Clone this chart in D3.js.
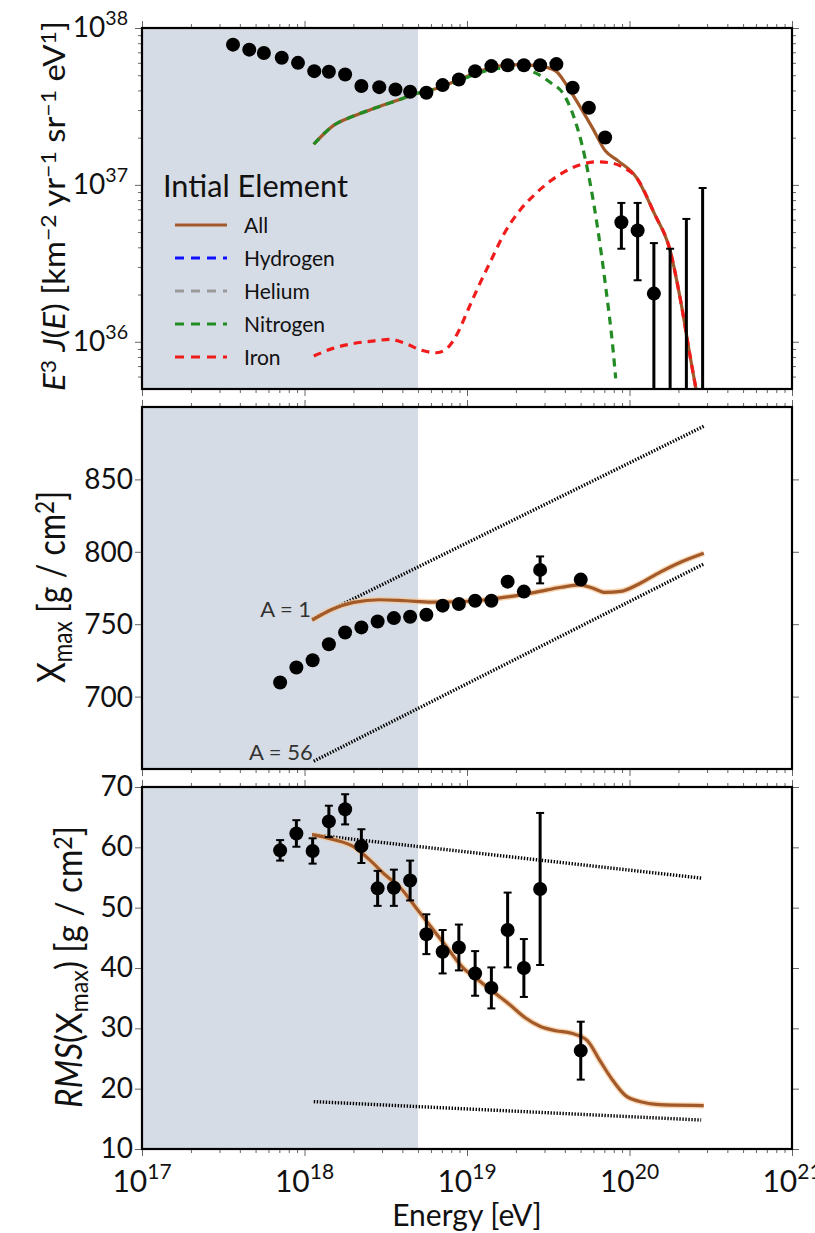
<!DOCTYPE html>
<html>
<head>
<meta charset="utf-8">
<script src="https://cdn.jsdelivr.net/npm/d3@7"></script>
<style>
  body { margin: 0; background: #fff; }
  text { font-family: Lato, "DejaVu Sans", sans-serif; fill: #111; }
</style>
</head>
<body>
<svg id="chart" width="815" height="1233"></svg>
<script>
// ---- data (log10 E in eV) ----
// spectrum points: log10 E, log10 E^3 J, error low / high (log10)
const specLgE = [17.56, 17.66, 17.75, 17.86, 17.96, 18.06, 18.15, 18.25, 18.35, 18.46, 18.56, 18.65, 18.75,
                 18.85, 18.95, 19.05, 19.15, 19.25, 19.35, 19.45, 19.55, 19.65, 19.75, 19.85, 19.95, 20.05,
                 20.15, 20.25, 20.35, 20.45];
const specLgJ = [37.894, 37.862, 37.841, 37.810, 37.778, 37.725, 37.721, 37.704, 37.630, 37.623, 37.608, 37.594,
                 37.587, 37.636, 37.672, 37.725, 37.757, 37.763, 37.763, 37.763, 37.770, 37.619, 37.492, 37.302,
                 36.762, 36.709, 36.307, 34.5, 34.5, 34.5];
const specLo =  [null, null, null, null, null, null, null, null, null, null, null, null, null, null, null, null,
                 null, null, null, null, null, null, null, 37.27, 36.593, 36.392, 34.0, 34.0, 34.0, 34.0];
const specHi =  [null, null, null, null, null, null, null, null, null, null, null, null, null, null, null, null,
                 null, null, null, null, null, null, null, 37.33, 36.885, 36.885, 36.629, 36.593, 36.783, 36.980];

// model curves, spectrum panel
const allLgE = [18.057, 18.175, 18.302, 18.430, 18.558, 18.686, 18.813, 18.941, 19.069, 19.196, 19.324, 19.452,
                19.547, 19.611, 19.675, 19.771, 19.851, 19.930, 20.042, 20.154, 20.250, 20.314, 20.377, 20.409];
const allLgJ = [37.259, 37.376, 37.439, 37.488, 37.534, 37.581, 37.615, 37.666, 37.721, 37.757, 37.767, 37.757,
                37.725, 37.640, 37.534, 37.365, 37.217, 37.153, 37.048, 36.815, 36.582, 36.265, 35.884, 35.70];
const nitLgE = [18.057, 18.175, 18.302, 18.430, 18.558, 18.686, 18.813, 18.941, 19.069, 19.196, 19.324, 19.420,
                19.515, 19.595, 19.659, 19.707, 19.755, 19.803, 19.851, 19.899, 19.915];
const nitLgJ = [37.259, 37.376, 37.439, 37.488, 37.534, 37.581, 37.612, 37.660, 37.712, 37.742, 37.745, 37.714,
                37.651, 37.577, 37.429, 37.259, 37.026, 36.730, 36.370, 35.947, 35.767];
const feLgE = [18.057, 18.175, 18.302, 18.430, 18.526, 18.622, 18.717, 18.813, 18.877, 18.941, 19.005, 19.069,
               19.148, 19.228, 19.324, 19.420, 19.515, 19.611, 19.707, 19.803, 19.899, 19.962, 20.042, 20.154,
               20.250, 20.314, 20.377, 20.409];
const feLgJ = [35.909, 35.958, 35.989, 36.006, 36.015, 35.989, 35.947, 35.930, 35.958, 36.053, 36.201, 36.349,
               36.519, 36.688, 36.836, 36.942, 37.026, 37.090, 37.132, 37.147, 37.137, 37.111, 37.048, 36.815,
               36.582, 36.265, 35.884, 35.70];

// Xmax panel
const xmaxLgE = [17.85, 17.95, 18.05, 18.15, 18.25, 18.35, 18.45, 18.55, 18.65, 18.75, 18.85, 18.95, 19.05,
                 19.15, 19.25, 19.35, 19.45, 19.70];
const xmaxVal = [709.7, 720.1, 725.1, 736.2, 744.3, 747.8, 751.9, 754.2, 755.1, 756.5, 762.8, 763.9, 766.2,
                 766.2, 779.4, 772.5, 787.5, 780.8];
const xmaxErr = [1, 1, 1, 1, 1, 1, 1, 1, 1, 1, 1.5, 1.5, 2, 2, 3, 3, 9.3, 2.5];
const xmaxFitLgE = [18.047, 18.175, 18.302, 18.462, 18.622, 18.781, 18.941, 19.101, 19.260, 19.420, 19.579,
                    19.691, 19.771, 19.851, 19.947, 20.058, 20.186, 20.314, 20.457];
const xmaxFit = [752.8, 760.5, 765.1, 766.9, 766.2, 765.3, 765.5, 766.7, 769.0, 772.0, 775.5, 777.1, 775.0,
                 772.0, 772.7, 777.8, 785.8, 792.8, 799.0];
const xmaxA1 = [[18.047, 753.5], [20.457, 886.7]];
const xmaxA56 = [[18.057, 655.4], [20.457, 791.6]];

// RMS(Xmax) panel
const rmsLgE = xmaxLgE;
const rmsVal = [59.5, 62.3, 59.4, 64.3, 66.3, 60.2, 53.2, 53.3, 54.5, 45.6, 42.7, 43.4, 39.1, 36.7, 46.3, 40.0,
                53.1, 26.3];
const rmsErr = [1.7, 2.2, 2.1, 2.6, 2.5, 2.8, 2.9, 3.0, 3.3, 3.3, 3.6, 3.8, 3.7, 3.4, 6.2, 4.8, 12.6, 4.8];
const rmsFitLgE = [18.047, 18.175, 18.302, 18.398, 18.494, 18.590, 18.686, 18.781, 18.877, 18.973, 19.069,
                   19.164, 19.260, 19.356, 19.452, 19.547, 19.643, 19.739, 19.819, 19.899, 19.978, 20.090,
                   20.218, 20.457];
const rmsFit = [62.1, 61.3, 60.1, 58.0, 55.5, 53.3, 50.0, 46.7, 43.4, 40.1, 38.0, 36.0, 34.0, 31.8, 30.3, 29.6,
                29.2, 28.0, 24.6, 21.3, 18.8, 17.7, 17.3, 17.2];
const rmsA1 = [[18.047, 62.1], [20.441, 54.9]];
const rmsA56 = [[18.057, 17.85], [20.441, 14.8]];

const legendNames = ["All", "Hydrogen", "Helium", "Nitrogen", "Iron"];
const legendColors = ["#a35a2b", "#1010ff", "#9a9a9a", "#238b23", "#f01c1c"];
const legendDashed = [false, true, true, true, true];

const xDecades = [17, 18, 19, 20, 21];
const shadeEnd = 5e18;

// ---- layout ----
const svg = d3.select("#chart");
const left = 142, right = 792;
const x = d3.scaleLog().domain([1e17, 1e21]).range([left, right]);
const brown = legendColors[0];

const yTop = d3.scaleLog().domain([5e35, 1e38]).range([389, 28]);
const yMid = d3.scaleLinear().domain([650, 900]).range([769, 407]);
const yBot = d3.scaleLinear().domain([10, 70]).range([1149, 787]);

const xMajor = xDecades.map(d => Math.pow(10, d));
const xMinor = [];
for (let e = 17; e < 21; e++) for (let m = 2; m < 10; m++) xMinor.push(m * Math.pow(10, e));

function panel(id, y) {
  const [y1, y0] = y.range();
  const g = svg.append("g");
  svg.append("clipPath").attr("id", "clip-" + id)
    .append("rect").attr("x", left).attr("y", y0).attr("width", right - left).attr("height", y1 - y0);
  g.append("rect")
    .attr("x", left).attr("y", y0)
    .attr("width", x(shadeEnd) - left).attr("height", y1 - y0)
    .attr("fill", "#d6dce5");
  const plot = g.append("g").attr("clip-path", `url(#clip-${id})`);
  return { g, plot, y0, y1 };
}

function ticks(p, y, yMajor, yMinor) {
  const sides = [
    [d3.axisBottom(x), `translate(0,${p.y1})`, xMajor, xMinor],
    [d3.axisTop(x), `translate(0,${p.y0})`, xMajor, xMinor],
    [d3.axisLeft(y), `translate(${left},0)`, yMajor, yMinor],
    [d3.axisRight(y), `translate(${right},0)`, yMajor, yMinor]
  ];
  sides.forEach(([ax, tr, maj, min]) => {
    [[maj, 7], [min, 4]].forEach(([vals, size]) => {
      const a = p.g.append("g").attr("transform", tr)
        .call(ax.tickValues(vals).tickSize(size).tickFormat(""));
      a.select(".domain").remove();
      a.selectAll("line").attr("stroke", "#666").attr("stroke-width", 1);
    });
  });
  p.g.append("rect")
    .attr("x", left).attr("y", p.y0)
    .attr("width", right - left).attr("height", p.y1 - p.y0)
    .attr("fill", "none").attr("stroke", "#000").attr("stroke-width", 2.2);
}

function curve(p, xs, ys, yf, color, dashed, glow) {
  const line = d3.line().x((d, i) => x(Math.pow(10, xs[i]))).y((d, i) => yf(ys[i])).curve(d3.curveMonotoneX);
  if (glow) {
    p.plot.append("path").attr("d", line(xs)).attr("fill", "none")
      .attr("stroke", "#f6c896").attr("stroke-width", 6).attr("stroke-opacity", 0.7);
  }
  p.plot.append("path").attr("d", line(xs)).attr("fill", "none")
    .attr("stroke", color).attr("stroke-width", 3.2)
    .attr("stroke-dasharray", dashed ? "8,6" : null);
}

function dotted(p, pts, yf) {
  p.plot.append("path")
    .attr("d", d3.line().x(d => x(Math.pow(10, d[0]))).y(d => yf(d[1]))(pts))
    .attr("fill", "none").attr("stroke", "#000").attr("stroke-width", 3.4)
    .attr("stroke-dasharray", "1.4,1.6");
}

function points(p, xs, cy, lo, hi) {
  xs.forEach((lg, i) => {
    const cx = x(Math.pow(10, lg));
    if (lo[i] != null) {
      p.plot.append("line").attr("x1", cx).attr("x2", cx).attr("y1", lo[i]).attr("y2", hi[i])
        .attr("stroke", "#000").attr("stroke-width", 3);
      [lo[i], hi[i]].forEach(v => p.plot.append("line")
        .attr("x1", cx - 4).attr("x2", cx + 4).attr("y1", v).attr("y2", v)
        .attr("stroke", "#000").attr("stroke-width", 2));
    }
    p.plot.append("circle").attr("cx", cx).attr("cy", cy[i]).attr("r", 7).attr("fill", "#000");
  });
}

function tenPow(sel, xPos, yPos, exp, size, anchor) {
  const t = sel.append("text").attr("x", xPos).attr("y", yPos).attr("text-anchor", anchor)
    .style("font-size", size + "px");
  t.append("tspan").text("10");
  t.append("tspan").attr("dy", -size * 0.42).style("font-size", (size * 0.7) + "px").text(exp);
}

// ---- top panel: spectrum ----
const pTop = panel("top", yTop);
curve(pTop, allLgE, allLgJ.map(v => Math.pow(10, v)), yTop, brown, false, false);
curve(pTop, nitLgE, nitLgJ.map(v => Math.pow(10, v)), yTop, legendColors[3], true);
curve(pTop, feLgE, feLgJ.map(v => Math.pow(10, v)), yTop, legendColors[4], true);
points(pTop, specLgE, specLgJ.map(v => yTop(Math.pow(10, v))),
  specLo.map(v => v == null ? null : yTop(Math.pow(10, v))),
  specHi.map(v => v == null ? null : yTop(Math.pow(10, v))));
const topMinor = [];
for (let e = 35; e < 38; e++) for (let m = 2; m < 10; m++) {
  const v = m * Math.pow(10, e);
  if (v >= 5e35 && v <= 1e38) topMinor.push(v);
}
ticks(pTop, yTop, [1e36, 1e37, 1e38], topMinor);
[36, 37, 38].forEach(e => tenPow(svg, 128, yTop(Math.pow(10, e)) + 9, e, 28, "end"));

// legend
const lg = svg.append("g");
lg.append("text").attr("x", 163).attr("y", 197).style("font-size", "30px")
  .attr("textLength", 185).attr("lengthAdjust", "spacingAndGlyphs").text("Intial Element");
legendNames.forEach((name, i) => {
  const yy = 225 + i * 33;
  lg.append("line").attr("x1", 175).attr("x2", 227).attr("y1", yy).attr("y2", yy)
    .attr("stroke", legendColors[i]).attr("stroke-width", 3.2)
    .attr("stroke-dasharray", legendDashed[i] ? "9,7" : null);
  lg.append("text").attr("x", 244).attr("y", yy + 8).style("font-size", "21px").text(name);
});

// ---- middle panel: Xmax ----
const pMid = panel("mid", yMid);
dotted(pMid, xmaxA1, yMid);
dotted(pMid, xmaxA56, yMid);
curve(pMid, xmaxFitLgE, xmaxFit, yMid, brown, false, true);
points(pMid, xmaxLgE, xmaxVal.map(v => yMid(v)),
  xmaxVal.map((v, i) => yMid(v - xmaxErr[i])), xmaxVal.map((v, i) => yMid(v + xmaxErr[i])));
ticks(pMid, yMid, [700, 750, 800, 850], []);
[700, 750, 800, 850].forEach(v => svg.append("text").attr("x", 133).attr("y", yMid(v) + 10)
  .attr("text-anchor", "end").style("font-size", "28px").text(v));
svg.append("text").attr("x", x(Math.pow(10, xmaxA1[0][0])) - 1).attr("y", yMid(xmaxA1[0][1]) - 2)
  .attr("text-anchor", "end").style("font-size", "22px").style("fill", "#333").text("A = 1");
svg.append("text").attr("x", x(Math.pow(10, xmaxA56[0][0])) - 1).attr("y", yMid(xmaxA56[0][1]) - 1)
  .attr("text-anchor", "end").style("font-size", "22px").style("fill", "#333").text("A = 56");

// ---- bottom panel: RMS ----
const pBot = panel("bot", yBot);
dotted(pBot, rmsA1, yBot);
dotted(pBot, rmsA56, yBot);
curve(pBot, rmsFitLgE, rmsFit, yBot, brown, false, true);
points(pBot, rmsLgE, rmsVal.map(v => yBot(v)),
  rmsVal.map((v, i) => yBot(v - rmsErr[i])), rmsVal.map((v, i) => yBot(v + rmsErr[i])));
const botTicks = d3.range(10, 71, 10);
ticks(pBot, yBot, botTicks, []);
botTicks.forEach(v => svg.append("text").attr("x", 133).attr("y", yBot(v) + 9)
  .attr("text-anchor", "end").style("font-size", "28px").text(v));
xDecades.forEach(e => tenPow(svg, x(Math.pow(10, e)), 1192, e, 30, "middle"));

// ---- axis titles ----
svg.append("text").attr("x", 467).attr("y", 1226).attr("text-anchor", "middle")
  .style("font-size", "30px").text("Energy [eV]");

function yTitle(cx, cy, parts, size, len) {
  const t = svg.append("text").attr("transform", `translate(${cx},${cy}) rotate(-90)`)
    .attr("text-anchor", "middle").style("font-size", size + "px")
    .attr("textLength", len).attr("lengthAdjust", "spacingAndGlyphs");
  parts.forEach(([txt, kind]) => {
    const s = t.append("tspan").text(txt);
    if (kind === "i") s.style("font-style", "italic");
    if (kind === "sup") s.attr("baseline-shift", "42%").style("font-size", (size * 0.7) + "px");
    if (kind === "sub") s.attr("baseline-shift", "-25%").style("font-size", (size * 0.7) + "px");
  });
}
yTitle(65, 206, [["E", "i"], ["3", "sup"], ["  ", ""], ["J", "i"], ["(", ""], ["E", "i"], [")  [km", ""],
  ["\u22122", "sup"], [" yr", ""], ["\u22121", "sup"], [" sr", ""], ["\u22121", "sup"], [" eV", ""], ["1", "sup"], ["]", ""]], 30, 370);
yTitle(65, 587, [["X", ""], ["max", "sub"], ["  [g / cm", ""], ["2", "sup"], ["]", ""]], 38, 192);
yTitle(82, 967, [["RMS", "i"], ["(X", ""], ["max", "sub"], [")  [g / cm", ""], ["2", "sup"], ["]", ""]], 36, 282);
</script>
</body>
</html>
